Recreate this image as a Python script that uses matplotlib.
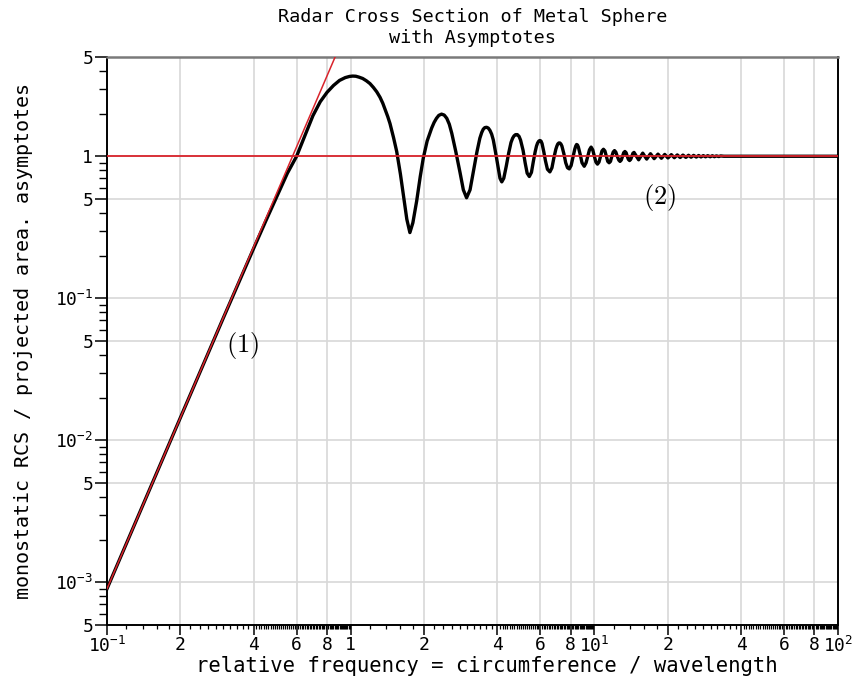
import numpy as np
import matplotlib
matplotlib.use("Agg")
import matplotlib.pyplot as plt
from matplotlib.ticker import FixedLocator, FixedFormatter, NullFormatter

# ---------------- data ----------------
# monostatic RCS / projected area of a metal sphere (black curve)
rcs_x = [0.1, 0.2, 0.3, 0.4, 0.45, 0.5, 0.55, 0.6, 0.66, 0.70, 0.75, 0.80, 0.85,
         0.90, 0.95, 0.99, 1.02, 1.05, 1.08, 1.12, 1.16, 1.20, 1.24, 1.28, 1.32,
         1.355, 1.39, 1.42, 1.45, 1.50, 1.545, 1.60, 1.644, 1.70, 1.75, 1.80,
         1.866, 1.93, 1.986, 2.06, 2.15, 2.20, 2.25, 2.30, 2.36, 2.42, 2.48, 2.54,
         2.60, 2.70, 2.81, 2.90, 2.99, 3.09, 3.19, 3.30, 3.39, 3.45, 3.50, 3.55,
         3.61, 3.67, 3.73, 3.79, 3.85, 3.95, 4.03, 4.10, 4.17, 4.25, 4.35, 4.45,
         4.55, 4.62, 4.68, 4.75, 4.83, 4.91, 4.98, 5.10, 5.20, 5.30, 5.41, 5.52,
         5.62, 5.72, 5.79, 5.85, 5.92, 5.98, 6.04, 6.10, 6.20, 6.30, 6.42, 6.57,
         6.70, 6.82, 6.95, 7.02, 7.08, 7.15, 7.22, 7.29, 7.36, 7.50, 7.63, 7.76,
         7.89, 8.03, 8.17, 8.31, 8.39, 8.46, 8.53, 8.60, 8.75, 8.90, 9.09, 9.25,
         9.40, 9.55, 9.70, 9.85, 10.0, 10.15, 10.3, 10.45, 10.6, 10.75, 10.9,
         11.05, 11.2, 11.35, 11.5, 11.65, 11.8, 11.95, 12.1, 12.25, 12.42, 12.6,
         12.75, 12.9, 13.05, 13.2, 13.35, 13.5, 13.65, 13.8, 13.95, 14.1, 14.25,
         14.4, 14.55, 15.2, 15.8, 16.4, 17.0, 17.6, 18.25, 18.85, 19.45,
         20.05, 20.7, 21.3, 21.9, 22.5, 23.1, 23.75, 24.35, 24.95, 25.55, 26.2,
         26.8, 27.4, 28.0, 28.6, 29.2, 29.9, 30.5, 31.1, 31.7, 32.4, 33.0, 34.0,
         100.0]
rcs_y = [9.0e-4, 0.0144, 0.0725, 0.225, 0.355, 0.53, 0.76, 1.0, 1.5, 1.93, 2.42,
         2.82, 3.15, 3.42, 3.58, 3.65, 3.67, 3.66, 3.61, 3.53, 3.40, 3.25, 3.05,
         2.84, 2.60, 2.36, 2.10, 1.90, 1.70, 1.35, 1.08, 0.75, 0.54, 0.36, 0.29,
         0.34, 0.484, 0.72, 0.97, 1.28, 1.58, 1.73, 1.85, 1.94, 1.98, 1.95, 1.85,
         1.68, 1.45, 1.08, 0.77, 0.58, 0.51, 0.58, 0.785, 1.08, 1.34, 1.47, 1.55,
         1.59, 1.60, 1.58, 1.52, 1.43, 1.30, 1.02, 0.83, 0.70, 0.66, 0.70, 0.85,
         1.05, 1.25, 1.34, 1.39, 1.42, 1.42, 1.38, 1.30, 1.10, 0.90, 0.76, 0.72,
         0.77, 0.92, 1.08, 1.18, 1.24, 1.28, 1.29, 1.28, 1.23, 1.08, 0.93, 0.81,
         0.776, 0.83, 0.97, 1.12, 1.18, 1.22, 1.24, 1.24, 1.22, 1.18, 1.04, 0.90,
         0.83, 0.815, 0.86, 0.98, 1.12, 1.18, 1.21, 1.20, 1.16, 1.03, 0.90, 0.85,
         0.90, 1.0, 1.11, 1.16, 1.11, 1.0, 0.91, 0.88, 0.91, 1.0, 1.09, 1.12,
         1.09, 1.0, 0.92, 0.90, 0.92, 1.0, 1.07, 1.096, 1.07, 1.0, 0.94, 0.92,
         0.94, 1.0, 1.06, 1.08, 1.06, 1.0, 0.95, 0.933, 0.95, 1.0, 1.05, 1.064,
         0.944, 1.052, 0.955, 1.042, 0.962, 1.035, 0.968, 1.03,
         0.973, 1.026, 0.977, 1.022, 0.98, 1.019, 0.982, 1.016, 0.985, 1.014,
         0.987, 1.012, 0.989, 1.01, 0.991, 1.009, 0.992, 1.008, 0.993, 1.006,
         0.995, 1.005, 1.0, 1.0]

# Rayleigh asymptote (1): low-frequency line
rayleigh_x = [0.1, 1.0]
rayleigh_y = [9.0e-4, 9.0]
# optical asymptote (2): RCS / projected area = 1
optical_x = [0.1, 100.0]
optical_y = [1.0, 1.0]

x_tick_vals = [0.1, 0.2, 0.4, 0.6, 0.8, 1, 2, 4, 6, 8, 10, 20, 40, 60, 80, 100]
x_tick_labels = ['$10^{-1}$', '2', '4', '6', '8', '1', '2', '4', '6', '8',
                 '$10^{1}$', '2', '4', '6', '8', '$10^{2}$']
y_tick_vals = [5e-4, 1e-3, 5e-3, 1e-2, 5e-2, 1e-1, 0.5, 1, 5]
y_tick_labels = ['5', '$10^{-3}$', '5', '$10^{-2}$', '5', '$10^{-1}$', '5', '1', '5']

title_line1 = "Radar Cross Section of Metal Sphere"
title_line2 = "with Asymptotes"
xlabel_text = "relative frequency = circumference / wavelength"
ylabel_text = "monostatic RCS / projected area. asymptotes"

# ---------------- style ----------------
plt.rcParams['font.family'] = ['DejaVu Sans Mono', 'DejaVu Sans']
plt.rcParams['mathtext.fontset'] = 'custom'
plt.rcParams['mathtext.rm'] = 'DejaVu Sans Mono'
plt.rcParams['mathtext.it'] = 'DejaVu Sans Mono'
plt.rcParams['mathtext.default'] = 'regular'

FS = 13
RED = '#d9232b'
GRID = '#d8d8d8'

fig = plt.figure(figsize=(8.59, 6.81), dpi=100)
ax = fig.add_axes([107 / 859, 1 - 625 / 681, 731 / 859, 568 / 681])
ax.set_xscale('log')
ax.set_yscale('log')
ax.set_xlim(0.1, 100)
ax.set_ylim(5e-4, 5)

ax.plot(rcs_x, rcs_y, color='black', lw=2.4, solid_joinstyle='round',
        zorder=3)
ax.plot(rayleigh_x, rayleigh_y, color=RED, lw=1.1, zorder=4)
ax.plot(optical_x, optical_y, color=RED, lw=1.3, zorder=4)

# ticks
ax.xaxis.set_major_locator(FixedLocator(x_tick_vals))
ax.xaxis.set_major_formatter(FixedFormatter(x_tick_labels))
xminor = []
for d in [0.1, 1, 10]:
    xminor += list(d * np.arange(1.2, 1.99, 0.2))
    xminor += list(d * np.arange(2.2, 3.99, 0.2))
    xminor += [d * v for v in np.arange(4.1, 9.95, 0.1)
               if abs(v - 6) > 0.01 and abs(v - 8) > 0.01]
ax.xaxis.set_minor_locator(FixedLocator(xminor))
ax.xaxis.set_minor_formatter(NullFormatter())

ax.yaxis.set_major_locator(FixedLocator(y_tick_vals))
ax.yaxis.set_major_formatter(FixedFormatter(y_tick_labels))
yminor = []
for d in [1e-4, 1e-3, 1e-2, 1e-1, 1]:
    yminor += [d * v for v in [2, 3, 4, 6, 7, 8, 9]]
yminor = [v for v in yminor if 5e-4 < v < 5]
ax.yaxis.set_minor_locator(FixedLocator(yminor))
ax.yaxis.set_minor_formatter(NullFormatter())

ax.tick_params(axis='x', which='major', direction='out', length=7, width=1.1,
               pad=1.0, labelsize=FS, colors='black')
ax.tick_params(axis='x', which='minor', direction='out', length=3.2, width=0.9)
ax.tick_params(axis='y', which='major', direction='out', length=9, width=1.1,
               pad=1, labelsize=FS)
ax.tick_params(axis='y', which='minor', direction='out', length=6, width=1.0)

ax.grid(True, which='major', color=GRID, lw=1.2, zorder=0)
ax.set_axisbelow(True)

for s in ['left', 'bottom', 'right']:
    ax.spines[s].set_color('black')
    ax.spines[s].set_linewidth(1.4)
ax.spines['top'].set_color('#7a7a7a')
ax.spines['top'].set_linewidth(1.8)

fig.text(472.5 / 859, 1 - 17 / 681, title_line1, fontsize=FS + 0.3,
         ha='center', va='center')
fig.text(472.5 / 859, 1 - 38 / 681, title_line2, fontsize=FS + 0.3,
         ha='center', va='center')

ax.set_xlabel(xlabel_text, fontsize=14.8)
ax.xaxis.set_label_coords((487 - 107) / 731, -(656 - 625) / 568)
ax.set_ylabel(ylabel_text, fontsize=14.4)
ax.yaxis.set_label_coords(-(107 - 33) / 731, 0.5)

ax.text(0.361, 0.0466, r'$\mathrm{(1)}$', fontsize=19, math_fontfamily='cm',
        ha='center', va='center', zorder=5)
ax.text(18.6, 0.516, r'$\mathrm{(2)}$', fontsize=19, math_fontfamily='cm',
        ha='center', va='center', zorder=5)

fig.savefig('out.png', dpi=100)
